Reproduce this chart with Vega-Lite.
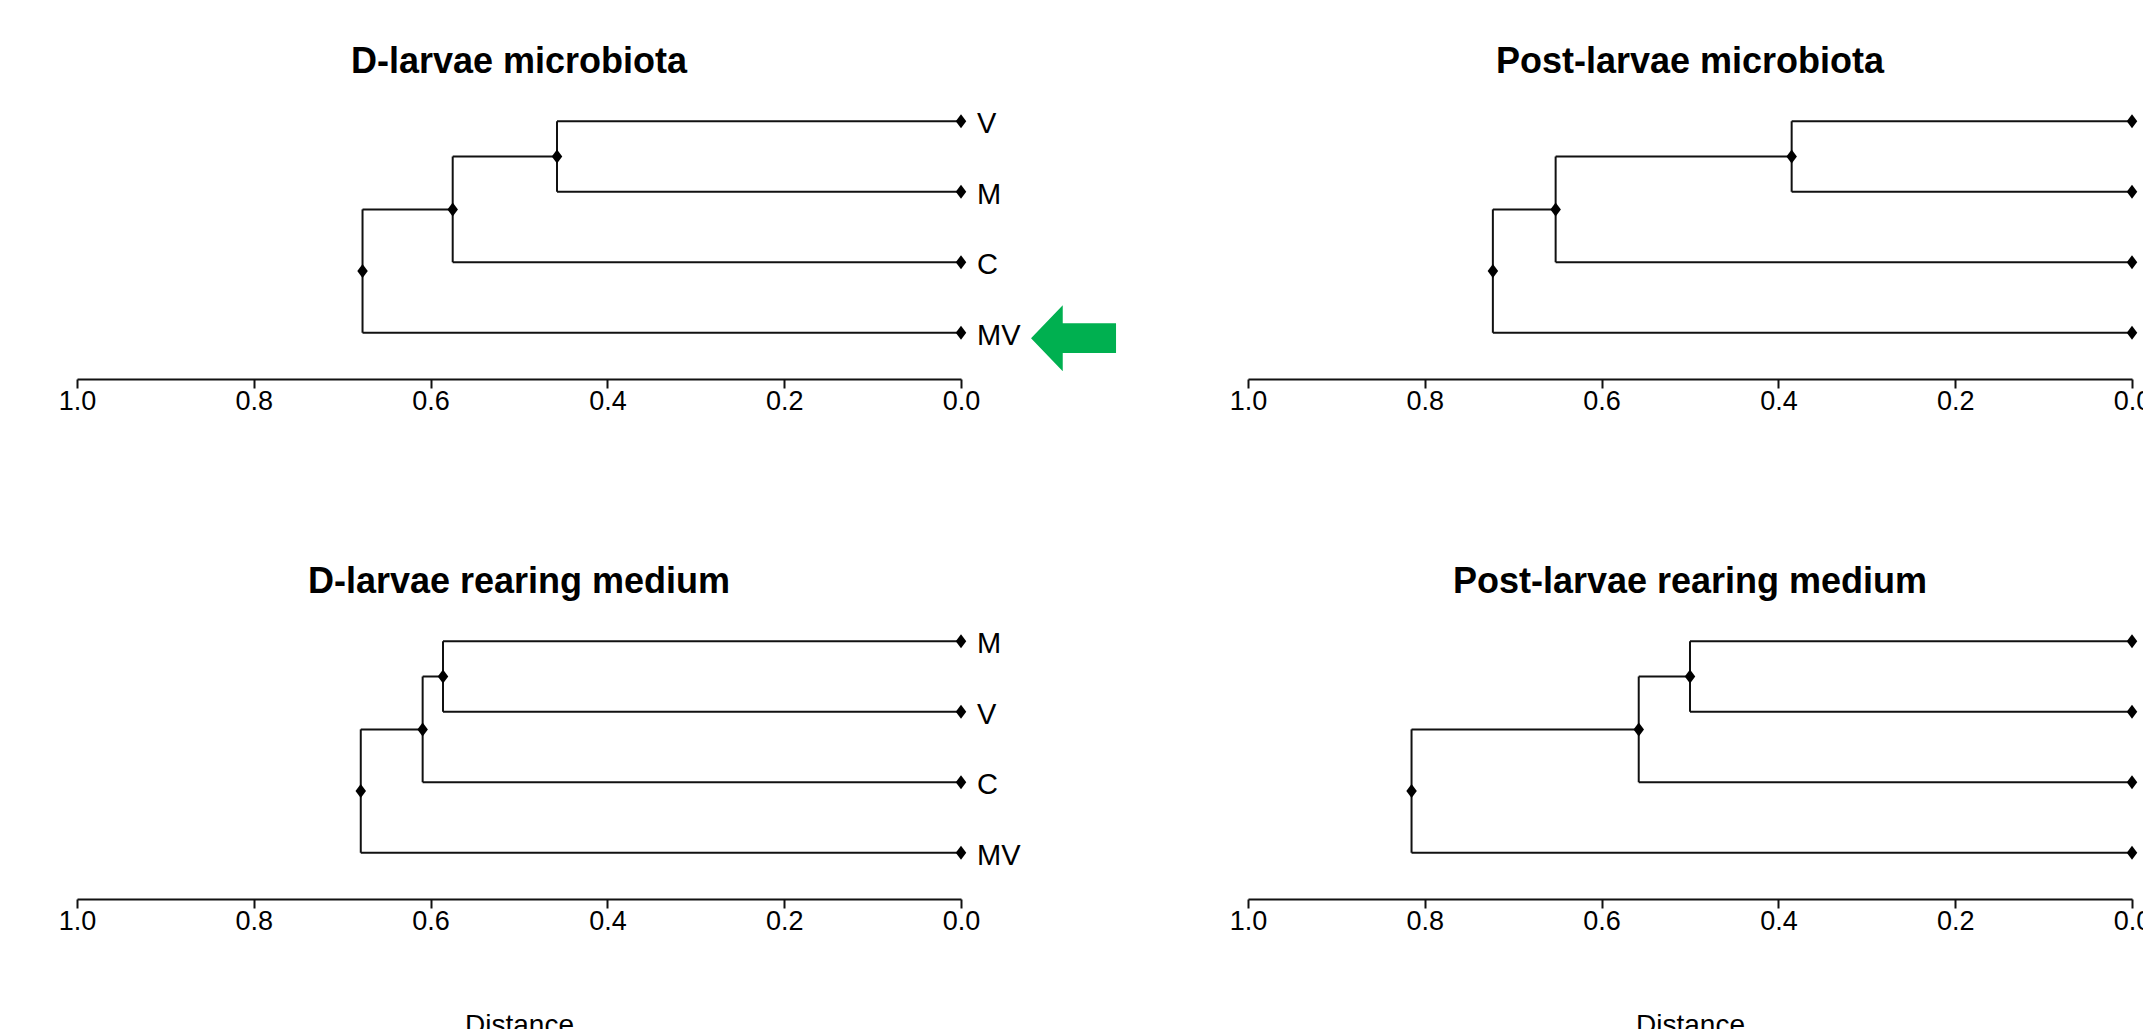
{
  "$schema": "https://vega.github.io/schema/vega-lite/v6.json",
  "background": "white",
  "padding": {"left": 58, "top": 44, "right": 0, "bottom": 0},
  "columns": 2,
  "spacing": {"row": 238, "column": 287},
  "bounds": "flush",
  "config": {
    "view": {"stroke": null},
    "axis": {
      "domainColor": "#111", "domainWidth": 2, "tickColor": "#111", "tickWidth": 2, "tickSize": 9,
      "labelFont": "Liberation Sans", "labelFontSize": 27, "labelColor": "#000", "labelPadding": 0,
      "labelFlush": false, "labelOverlap": false, "labelBound": false, "grid": false,
      "titleFont": "Liberation Sans", "titleFontSize": 28, "titleFontWeight": "normal", "titleColor": "#000", "titlePadding": 77
    },
    "title": {"font": "Liberation Sans", "fontSize": 36, "fontWeight": "bold", "color": "#000", "anchor": "middle", "baseline": "alphabetic", "offset": 5}
  },
  "datasets": {
    "seg": [
      {"panel": "DM", "x": 0, "x2": 0.457, "y": 1, "y2": 1},
      {"panel": "DM", "x": 0, "x2": 0.457, "y": 2, "y2": 2},
      {"panel": "DM", "x": 0.457, "x2": 0.457, "y": 1, "y2": 2},
      {"panel": "DM", "x": 0.457, "x2": 0.575, "y": 1.5, "y2": 1.5},
      {"panel": "DM", "x": 0, "x2": 0.575, "y": 3, "y2": 3},
      {"panel": "DM", "x": 0.575, "x2": 0.575, "y": 1.5, "y2": 3},
      {"panel": "DM", "x": 0.575, "x2": 0.677, "y": 2.25, "y2": 2.25},
      {"panel": "DM", "x": 0, "x2": 0.677, "y": 4, "y2": 4},
      {"panel": "DM", "x": 0.677, "x2": 0.677, "y": 2.25, "y2": 4},

      {"panel": "PM", "x": 0, "x2": 0.385, "y": 1, "y2": 1},
      {"panel": "PM", "x": 0, "x2": 0.385, "y": 2, "y2": 2},
      {"panel": "PM", "x": 0.385, "x2": 0.385, "y": 1, "y2": 2},
      {"panel": "PM", "x": 0.385, "x2": 0.652, "y": 1.5, "y2": 1.5},
      {"panel": "PM", "x": 0, "x2": 0.652, "y": 3, "y2": 3},
      {"panel": "PM", "x": 0.652, "x2": 0.652, "y": 1.5, "y2": 3},
      {"panel": "PM", "x": 0.652, "x2": 0.723, "y": 2.25, "y2": 2.25},
      {"panel": "PM", "x": 0, "x2": 0.723, "y": 4, "y2": 4},
      {"panel": "PM", "x": 0.723, "x2": 0.723, "y": 2.25, "y2": 4},

      {"panel": "DR", "x": 0, "x2": 0.586, "y": 1, "y2": 1},
      {"panel": "DR", "x": 0, "x2": 0.586, "y": 2, "y2": 2},
      {"panel": "DR", "x": 0.586, "x2": 0.586, "y": 1, "y2": 2},
      {"panel": "DR", "x": 0.586, "x2": 0.609, "y": 1.5, "y2": 1.5},
      {"panel": "DR", "x": 0, "x2": 0.609, "y": 3, "y2": 3},
      {"panel": "DR", "x": 0.609, "x2": 0.609, "y": 1.5, "y2": 3},
      {"panel": "DR", "x": 0.609, "x2": 0.679, "y": 2.25, "y2": 2.25},
      {"panel": "DR", "x": 0, "x2": 0.679, "y": 4, "y2": 4},
      {"panel": "DR", "x": 0.679, "x2": 0.679, "y": 2.25, "y2": 4},

      {"panel": "PR", "x": 0, "x2": 0.5, "y": 1, "y2": 1},
      {"panel": "PR", "x": 0, "x2": 0.5, "y": 2, "y2": 2},
      {"panel": "PR", "x": 0.5, "x2": 0.5, "y": 1, "y2": 2},
      {"panel": "PR", "x": 0.5, "x2": 0.558, "y": 1.5, "y2": 1.5},
      {"panel": "PR", "x": 0, "x2": 0.558, "y": 3, "y2": 3},
      {"panel": "PR", "x": 0.558, "x2": 0.558, "y": 1.5, "y2": 3},
      {"panel": "PR", "x": 0.558, "x2": 0.815, "y": 2.25, "y2": 2.25},
      {"panel": "PR", "x": 0, "x2": 0.815, "y": 4, "y2": 4},
      {"panel": "PR", "x": 0.815, "x2": 0.815, "y": 2.25, "y2": 4}
    ],
    "node": [
      {"panel": "DM", "x": 0, "y": 1, "label": "V"},
      {"panel": "DM", "x": 0, "y": 2, "label": "M"},
      {"panel": "DM", "x": 0, "y": 3, "label": "C"},
      {"panel": "DM", "x": 0, "y": 4, "label": "MV"},
      {"panel": "DM", "x": 0.457, "y": 1.5, "label": ""},
      {"panel": "DM", "x": 0.575, "y": 2.25, "label": ""},
      {"panel": "DM", "x": 0.677, "y": 3.125, "label": ""},

      {"panel": "PM", "x": 0, "y": 1, "label": ""},
      {"panel": "PM", "x": 0, "y": 2, "label": ""},
      {"panel": "PM", "x": 0, "y": 3, "label": ""},
      {"panel": "PM", "x": 0, "y": 4, "label": ""},
      {"panel": "PM", "x": 0.385, "y": 1.5, "label": ""},
      {"panel": "PM", "x": 0.652, "y": 2.25, "label": ""},
      {"panel": "PM", "x": 0.723, "y": 3.125, "label": ""},

      {"panel": "DR", "x": 0, "y": 1, "label": "M"},
      {"panel": "DR", "x": 0, "y": 2, "label": "V"},
      {"panel": "DR", "x": 0, "y": 3, "label": "C"},
      {"panel": "DR", "x": 0, "y": 4, "label": "MV"},
      {"panel": "DR", "x": 0.586, "y": 1.5, "label": ""},
      {"panel": "DR", "x": 0.609, "y": 2.25, "label": ""},
      {"panel": "DR", "x": 0.679, "y": 3.125, "label": ""},

      {"panel": "PR", "x": 0, "y": 1, "label": ""},
      {"panel": "PR", "x": 0, "y": 2, "label": ""},
      {"panel": "PR", "x": 0, "y": 3, "label": ""},
      {"panel": "PR", "x": 0, "y": 4, "label": ""},
      {"panel": "PR", "x": 0.5, "y": 1.5, "label": ""},
      {"panel": "PR", "x": 0.558, "y": 2.25, "label": ""},
      {"panel": "PR", "x": 0.815, "y": 3.125, "label": ""}
    ],
    "arrow": [
      {"panel": "DM", "x": -0.1273, "y": 4.078}
    ]
  },
  "concat": [
    {
      "width": 884, "height": 282,
      "title": {"text": "D-larvae microbiota"},
      "layer": [
        {"data": {"name": "seg"}, "transform": [{"filter": "datum.panel === 'DM'"}],
         "mark": {"type": "rule", "strokeWidth": 2, "color": "#111"},
         "encoding": {
           "x": {"field": "x", "type": "quantitative", "scale": {"domain": [0, 1], "reverse": true, "nice": false, "zero": false},
                 "axis": {"values": [0, 0.2, 0.4, 0.6, 0.8, 1], "format": ".1f", "offset": 11, "title": null}},
           "x2": {"field": "x2"},
           "y": {"field": "y", "type": "quantitative", "scale": {"domain": [0.5, 4.5], "reverse": true, "nice": false, "zero": false}, "axis": null},
           "y2": {"field": "y2"}}},
        {"data": {"name": "node"}, "transform": [{"filter": "datum.panel === 'DM'"}],
         "mark": {"type": "point", "shape": "M 0 -1 L 0.75 0 L 0 1 L -0.75 0 Z", "filled": true, "size": 196, "color": "#000", "opacity": 1},
         "encoding": {"x": {"field": "x", "type": "quantitative"}, "y": {"field": "y", "type": "quantitative"}}},
        {"data": {"name": "node"}, "transform": [{"filter": "datum.panel === 'DM' && datum.label !== ''"}],
         "mark": {"type": "text", "align": "left", "baseline": "middle", "dx": 16, "dy": 3, "fontSize": 29, "font": "Liberation Sans", "color": "#000"},
         "encoding": {"x": {"field": "x", "type": "quantitative"}, "y": {"field": "y", "type": "quantitative"}, "text": {"field": "label"}}},
        {"data": {"name": "arrow"},
         "mark": {"type": "point", "shape": "M -1 0 L -0.254 -0.776 L -0.254 -0.35 L 1 -0.35 L 1 0.35 L -0.254 0.35 L -0.254 0.776 Z", "filled": true, "size": 7225, "color": "#00B050", "opacity": 1},
         "encoding": {"x": {"field": "x", "type": "quantitative"}, "y": {"field": "y", "type": "quantitative"}}}
      ]
    },
    {
      "width": 884, "height": 282,
      "title": {"text": "Post-larvae microbiota"},
      "layer": [
        {"data": {"name": "seg"}, "transform": [{"filter": "datum.panel === 'PM'"}],
         "mark": {"type": "rule", "strokeWidth": 2, "color": "#111"},
         "encoding": {
           "x": {"field": "x", "type": "quantitative", "scale": {"domain": [0, 1], "reverse": true, "nice": false, "zero": false},
                 "axis": {"values": [0, 0.2, 0.4, 0.6, 0.8, 1], "format": ".1f", "offset": 11, "title": null}},
           "x2": {"field": "x2"},
           "y": {"field": "y", "type": "quantitative", "scale": {"domain": [0.5, 4.5], "reverse": true, "nice": false, "zero": false}, "axis": null},
           "y2": {"field": "y2"}}},
        {"data": {"name": "node"}, "transform": [{"filter": "datum.panel === 'PM'"}],
         "mark": {"type": "point", "shape": "M 0 -1 L 0.75 0 L 0 1 L -0.75 0 Z", "filled": true, "size": 196, "color": "#000", "opacity": 1},
         "encoding": {"x": {"field": "x", "type": "quantitative"}, "y": {"field": "y", "type": "quantitative"}}}
      ]
    },
    {
      "width": 884, "height": 282,
      "title": {"text": "D-larvae rearing medium"},
      "layer": [
        {"data": {"name": "seg"}, "transform": [{"filter": "datum.panel === 'DR'"}],
         "mark": {"type": "rule", "strokeWidth": 2, "color": "#111"},
         "encoding": {
           "x": {"field": "x", "type": "quantitative", "scale": {"domain": [0, 1], "reverse": true, "nice": false, "zero": false},
                 "axis": {"values": [0, 0.2, 0.4, 0.6, 0.8, 1], "format": ".1f", "offset": 11, "title": "Distance"}},
           "x2": {"field": "x2"},
           "y": {"field": "y", "type": "quantitative", "scale": {"domain": [0.5, 4.5], "reverse": true, "nice": false, "zero": false}, "axis": null},
           "y2": {"field": "y2"}}},
        {"data": {"name": "node"}, "transform": [{"filter": "datum.panel === 'DR'"}],
         "mark": {"type": "point", "shape": "M 0 -1 L 0.75 0 L 0 1 L -0.75 0 Z", "filled": true, "size": 196, "color": "#000", "opacity": 1},
         "encoding": {"x": {"field": "x", "type": "quantitative"}, "y": {"field": "y", "type": "quantitative"}}},
        {"data": {"name": "node"}, "transform": [{"filter": "datum.panel === 'DR' && datum.label !== ''"}],
         "mark": {"type": "text", "align": "left", "baseline": "middle", "dx": 16, "dy": 3, "fontSize": 29, "font": "Liberation Sans", "color": "#000"},
         "encoding": {"x": {"field": "x", "type": "quantitative"}, "y": {"field": "y", "type": "quantitative"}, "text": {"field": "label"}}}
      ]
    },
    {
      "width": 884, "height": 282,
      "title": {"text": "Post-larvae rearing medium"},
      "layer": [
        {"data": {"name": "seg"}, "transform": [{"filter": "datum.panel === 'PR'"}],
         "mark": {"type": "rule", "strokeWidth": 2, "color": "#111"},
         "encoding": {
           "x": {"field": "x", "type": "quantitative", "scale": {"domain": [0, 1], "reverse": true, "nice": false, "zero": false},
                 "axis": {"values": [0, 0.2, 0.4, 0.6, 0.8, 1], "format": ".1f", "offset": 11, "title": "Distance"}},
           "x2": {"field": "x2"},
           "y": {"field": "y", "type": "quantitative", "scale": {"domain": [0.5, 4.5], "reverse": true, "nice": false, "zero": false}, "axis": null},
           "y2": {"field": "y2"}}},
        {"data": {"name": "node"}, "transform": [{"filter": "datum.panel === 'PR'"}],
         "mark": {"type": "point", "shape": "M 0 -1 L 0.75 0 L 0 1 L -0.75 0 Z", "filled": true, "size": 196, "color": "#000", "opacity": 1},
         "encoding": {"x": {"field": "x", "type": "quantitative"}, "y": {"field": "y", "type": "quantitative"}}}
      ]
    }
  ]
}
